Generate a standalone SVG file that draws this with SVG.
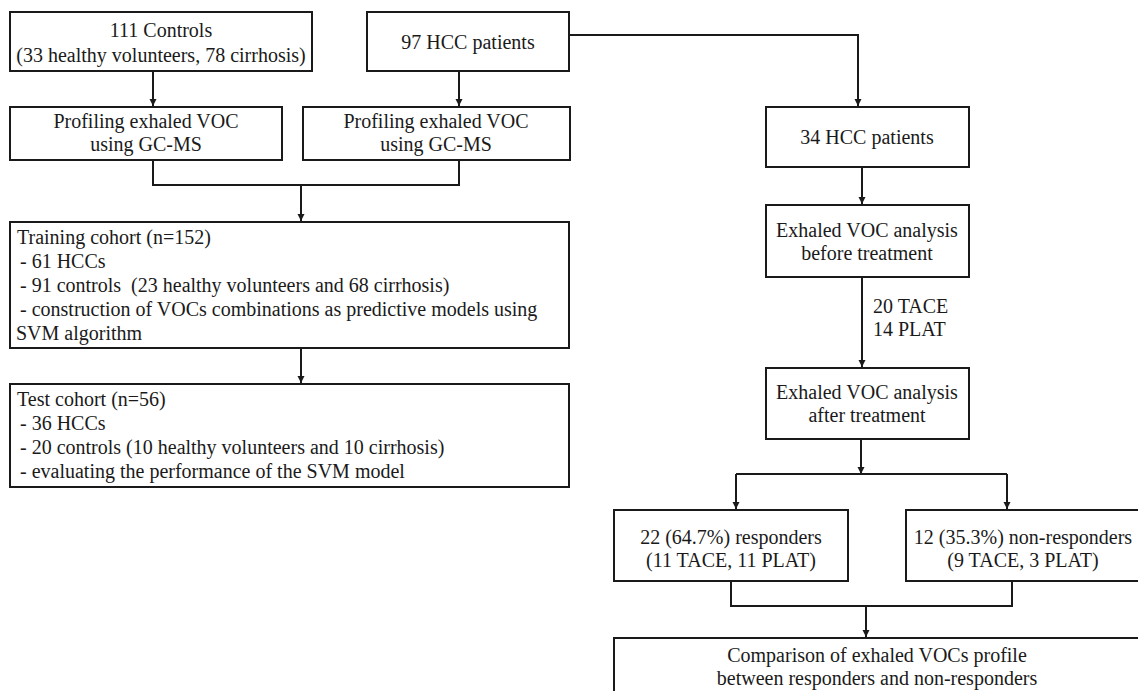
<svg xmlns="http://www.w3.org/2000/svg" width="1138" height="691" viewBox="0 0 1138 691">
<style>
.box{fill:#fff;stroke:#1a1a1a;stroke-width:2}
.t{font-family:"Liberation Serif","Times New Roman",serif;font-size:20px;fill:#1a1a1a}
.c{text-anchor:middle}
.ln{fill:none;stroke:#1a1a1a;stroke-width:2}
.ar{fill:none;stroke:#1a1a1a;stroke-width:2;marker-end:url(#ah)}
</style>
<defs>
<marker id="ah" markerUnits="userSpaceOnUse" markerWidth="8" markerHeight="8" refX="7" refY="3.5" orient="auto">
<path d="M0,0 L7,3.5 L0,7 z" fill="#1a1a1a"/>
</marker>
</defs>
<rect width="1138" height="691" fill="#fff"/>
<g id="connectors">
<path class="ar" d="M153,71 V106"/>
<path class="ar" d="M459,71 V106"/>
<path class="ln" d="M153,160 V185 H459 V160"/>
<path class="ar" d="M301,185 V221"/>
<path class="ar" d="M301,348 V383"/>
<path class="ar" d="M569,35 H858 V106"/>
<path class="ar" d="M862,167 V204"/>
<path class="ar" d="M862,277 V367"/>
<path class="ar" d="M861,439 V474"/>
<path class="ln" d="M736,474 H1007"/>
<path class="ar" d="M736,474 V509"/>
<path class="ar" d="M1007,474 V509"/>
<path class="ln" d="M731,581 V606 H1012 V581"/>
<path class="ar" d="M866,606 V637"/>
</g>
<g id="n-controls">
<rect class="box" x="10" y="12" width="302" height="59"/>
<text class="t c" x="161" y="37">111 Controls</text>
<text class="t c" x="161" y="62">(33 healthy volunteers, 78 cirrhosis)</text>
</g>
<g id="n-hcc97">
<rect class="box" x="367" y="12" width="202" height="59"/>
<text class="t c" x="468" y="49">97 HCC patients</text>
</g>
<g id="n-prof-left">
<rect class="box" x="10" y="107" width="272" height="53"/>
<text class="t c" x="146" y="128">Profiling exhaled VOC</text>
<text class="t c" x="146" y="151">using GC-MS</text>
</g>
<g id="n-prof-right">
<rect class="box" x="303" y="107" width="267" height="53"/>
<text class="t c" x="436" y="128">Profiling exhaled VOC</text>
<text class="t c" x="436" y="151">using GC-MS</text>
</g>
<g id="n-training">
<rect class="box" x="10" y="222" width="559" height="126"/>
<text class="t" x="17" y="244">Training cohort (n=152)</text>
<text class="t" x="20" y="268">- 61 HCCs</text>
<text class="t" x="20" y="292" xml:space="preserve">- 91 controls  (23 healthy volunteers and 68 cirrhosis)</text>
<text class="t" x="20" y="316">- construction of VOCs combinations as predictive models using</text>
<text class="t" x="16" y="340">SVM algorithm</text>
</g>
<g id="n-test">
<rect class="box" x="10" y="384" width="559" height="103"/>
<text class="t" x="17" y="406">Test cohort (n=56)</text>
<text class="t" x="20" y="430">- 36 HCCs</text>
<text class="t" x="20" y="454">- 20 controls (10 healthy volunteers and 10 cirrhosis)</text>
<text class="t" x="20" y="478">- evaluating the performance of the SVM model</text>
</g>
<g id="n-hcc34">
<rect class="box" x="766" y="107" width="203" height="60"/>
<text class="t c" x="867" y="144">34 HCC patients</text>
</g>
<g id="n-before">
<rect class="box" x="766" y="205" width="203" height="72"/>
<text class="t c" x="867" y="237">Exhaled VOC analysis</text>
<text class="t c" x="867" y="260">before treatment</text>
</g>
<g id="lbl-treat">
<text class="t" x="873" y="313">20 TACE</text>
<text class="t" x="873" y="336">14 PLAT</text>
</g>
<g id="n-after">
<rect class="box" x="766" y="368" width="203" height="71"/>
<text class="t c" x="867" y="399">Exhaled VOC analysis</text>
<text class="t c" x="867" y="422">after treatment</text>
</g>
<g id="n-responders">
<rect class="box" x="614" y="510" width="234" height="71"/>
<text class="t c" x="731" y="544">22 (64.7%) responders</text>
<text class="t c" x="731" y="567">(11 TACE, 11 PLAT)</text>
</g>
<g id="n-nonresponders">
<rect class="box" x="906" y="510" width="234" height="71"/>
<text class="t c" x="1023" y="544">12 (35.3%) non-responders</text>
<text class="t c" x="1023" y="567">(9 TACE, 3 PLAT)</text>
</g>
<g id="n-comparison">
<rect class="box" x="614" y="638" width="528" height="70"/>
<text class="t c" x="877" y="662">Comparison of exhaled VOCs profile</text>
<text class="t c" x="877" y="685">between responders and non-responders</text>
</g>
</svg>
